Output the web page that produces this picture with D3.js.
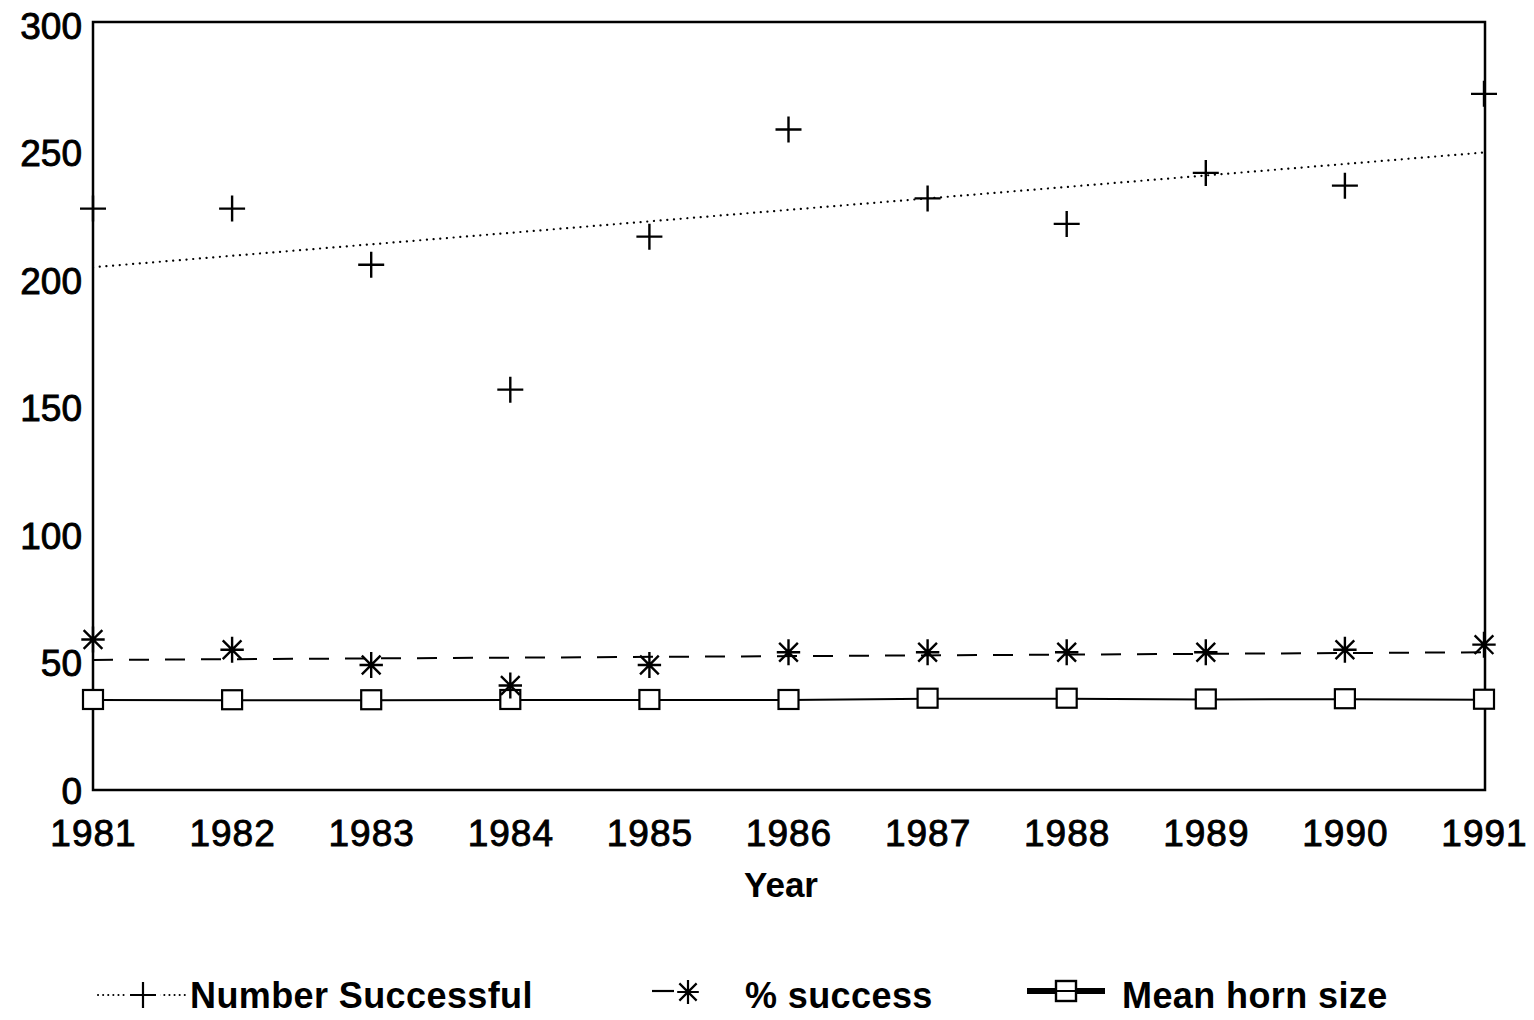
<!DOCTYPE html>
<html>
<head>
<meta charset="utf-8">
<script src="https://cdn.jsdelivr.net/npm/d3@7"></script>
<style>
  body { margin: 0; background: #fff; }
  text { font-family: "Liberation Sans", Arial, sans-serif; fill: #000; }
</style>
</head>
<body>
<div id="chart"></div>
<script>
// values
let years = [1981, 1982, 1983, 1984, 1985, 1986, 1987, 1988, 1989, 1990, 1991];
let numberSuccessful = [228, 228, 206, 157, 217, 259, 232, 222, 242, 237, 273];
let pctSuccess = [59, 55, 49, 41, 49, 54, 54, 54, 54, 55, 57];
let meanHorn = [35.3, 35.2, 35.2, 35.3, 35.3, 35.3, 35.8, 35.8, 35.5, 35.6, 35.4];
let trendNumber = [205, 250];   // fitted line, 1981 -> 1991
let trendPct = [51, 54];
let yTicks = [0, 50, 100, 150, 200, 250, 300];
let legendLabels = ["Number Successful", "% success", "Mean horn size"];

let width = 1534;
let height = 1020;
let padL = 93, padR = 1485, padT = 22, padB = 790;

let svg = d3.select("#chart")
            .append("svg")
            .attr("width", width)
            .attr("height", height);

svg.append("rect").attr("width", width).attr("height", height).attr("fill", "#fff");

let xScale = d3.scaleLinear()
               .domain([1981, 1991])
               .range([padL, padR - 1]);

let yScale = d3.scaleLinear()
               .domain([0, 300])
               .range([padB, 25]);

// frame
svg.append("rect")
   .attr("x", padL).attr("y", padT)
   .attr("width", padR - padL).attr("height", padB - padT)
   .attr("fill", "none").attr("stroke", "#000").attr("stroke-width", 2.5);

// axes (labels only, no tick marks)
let xAxis = d3.axisBottom(xScale)
              .tickValues(years)
              .tickFormat(d3.format("d"))
              .tickSize(0)
              .tickPadding(30);

let yAxis = d3.axisLeft(yScale)
              .tickValues(yTicks)
              .tickSize(0)
              .tickPadding(9);

let gx = svg.append("g")
            .attr("transform", "translate(0," + padB + ")")
            .call(xAxis);
let gy = svg.append("g")
            .attr("transform", "translate(" + (padL - 2) + ",0)")
            .call(yAxis);

[gx, gy].forEach(function(g) {
  g.select(".domain").remove();
  g.selectAll("text")
   .attr("font-family", "Liberation Sans, Arial, sans-serif")
   .attr("font-size", 37)
   .attr("fill", "#000")
   .attr("stroke", "#000")
   .attr("stroke-width", 0.9);
});
gx.selectAll("text").attr("letter-spacing", 1);
gy.selectAll("text").attr("dy", "0.36em");

svg.append("text")
   .attr("x", 781).attr("y", 897)
   .attr("text-anchor", "middle")
   .attr("font-size", 35)
   .attr("font-weight", "bold")
   .text("Year");

// symbol shapes
let plusSym = {
  draw: function(ctx, size) {
    let r = Math.sqrt(size) / 2;
    ctx.moveTo(-r, 0); ctx.lineTo(r, 0);
    ctx.moveTo(0, -r); ctx.lineTo(0, r);
  }
};
let starSym = {
  draw: function(ctx, size) {
    let r = Math.sqrt(size) / 2;
    let d = r * 0.72;
    ctx.moveTo(0, -r); ctx.lineTo(0, r);
    ctx.moveTo(-d, -d); ctx.lineTo(d, d);
    ctx.moveTo(-d, d); ctx.lineTo(d, -d);
    ctx.moveTo(-r * 0.9, 0); ctx.lineTo(r * 0.9, 0);
  }
};

let line = d3.line()
             .x(function(d) { return xScale(d.x); })
             .y(function(d) { return yScale(d.y); });

// mean horn size line
svg.append("path")
   .datum(years.map(function(y, i) { return { x: y, y: meanHorn[i] }; }))
   .attr("d", line)
   .attr("fill", "none").attr("stroke", "#000").attr("stroke-width", 2);

// trend lines
svg.append("path")
   .datum([{ x: 1981, y: trendNumber[0] }, { x: 1991, y: trendNumber[1] }])
   .attr("d", line)
   .attr("fill", "none").attr("stroke", "#000").attr("stroke-width", 2.2)
   .attr("stroke-linecap", "round")
   .attr("stroke-dasharray", "0.1 6.6");

svg.append("path")
   .datum([{ x: 1981, y: trendPct[0] }, { x: 1991, y: trendPct[1] }])
   .attr("d", line)
   .attr("fill", "none").attr("stroke", "#000").attr("stroke-width", 2)
   .attr("stroke-dasharray", "20 16");

// markers
svg.selectAll(".sq")
   .data(meanHorn)
   .enter().append("rect")
   .attr("class", "sq")
   .attr("x", function(d, i) { return xScale(years[i]) - 10; })
   .attr("y", function(d) { return yScale(d) - 10; })
   .attr("width", 20).attr("height", 19)
   .attr("fill", "#fff").attr("stroke", "#000").attr("stroke-width", 2.2);

svg.selectAll(".plus")
   .data(numberSuccessful)
   .enter().append("path")
   .attr("class", "plus")
   .attr("transform", function(d, i) { return "translate(" + xScale(years[i]) + "," + yScale(d) + ")"; })
   .attr("d", d3.symbol().type(plusSym).size(26 * 26))
   .attr("fill", "none").attr("stroke", "#000").attr("stroke-width", 2.4);

svg.selectAll(".star")
   .data(pctSuccess)
   .enter().append("path")
   .attr("class", "star")
   .attr("transform", function(d, i) { return "translate(" + xScale(years[i]) + "," + yScale(d) + ")"; })
   .attr("d", d3.symbol().type(starSym).size(26 * 26))
   .attr("fill", "none").attr("stroke", "#000").attr("stroke-width", 2.4);

// legend
let ly = 995;
let lg = svg.append("g");

lg.append("line").attr("x1", 98).attr("x2", 186).attr("y1", ly).attr("y2", ly)
  .attr("stroke", "#000").attr("stroke-width", 2).attr("stroke-linecap", "round")
  .attr("stroke-dasharray", "0.1 5");
lg.append("rect").attr("x", 126).attr("y", ly - 4).attr("width", 34).attr("height", 8).attr("fill", "#fff");
lg.append("path").attr("transform", "translate(143," + ly + ")")
  .attr("d", d3.symbol().type(plusSym).size(26 * 26))
  .attr("fill", "none").attr("stroke", "#000").attr("stroke-width", 2.2);

lg.append("line").attr("x1", 652).attr("x2", 674).attr("y1", ly - 4).attr("y2", ly - 4)
  .attr("stroke", "#000").attr("stroke-width", 2.2);
lg.append("path").attr("transform", "translate(688," + (ly - 3) + ")")
  .attr("d", d3.symbol().type(starSym).size(24 * 24))
  .attr("fill", "none").attr("stroke", "#000").attr("stroke-width", 2.2);

lg.append("line").attr("x1", 1027).attr("x2", 1105).attr("y1", ly - 4).attr("y2", ly - 4)
  .attr("stroke", "#000").attr("stroke-width", 6);
lg.append("rect").attr("x", 1056).attr("y", ly - 14).attr("width", 20).attr("height", 20)
  .attr("fill", "#fff").attr("stroke", "#000").attr("stroke-width", 2.4);
lg.append("line").attr("x1", 1056).attr("x2", 1076).attr("y1", ly - 4).attr("y2", ly - 4)
  .attr("stroke", "#000").attr("stroke-width", 2);

let legendX = [190, 745, 1122];
lg.selectAll(".lt")
  .data(legendLabels)
  .enter().append("text")
  .attr("class", "lt")
  .attr("x", function(d, i) { return legendX[i]; })
  .attr("y", ly + 13)
  .attr("font-size", 36)
  .attr("font-weight", "bold")
  .attr("letter-spacing", 0.4)
  .text(function(d) { return d; });
</script>
</body>
</html>
